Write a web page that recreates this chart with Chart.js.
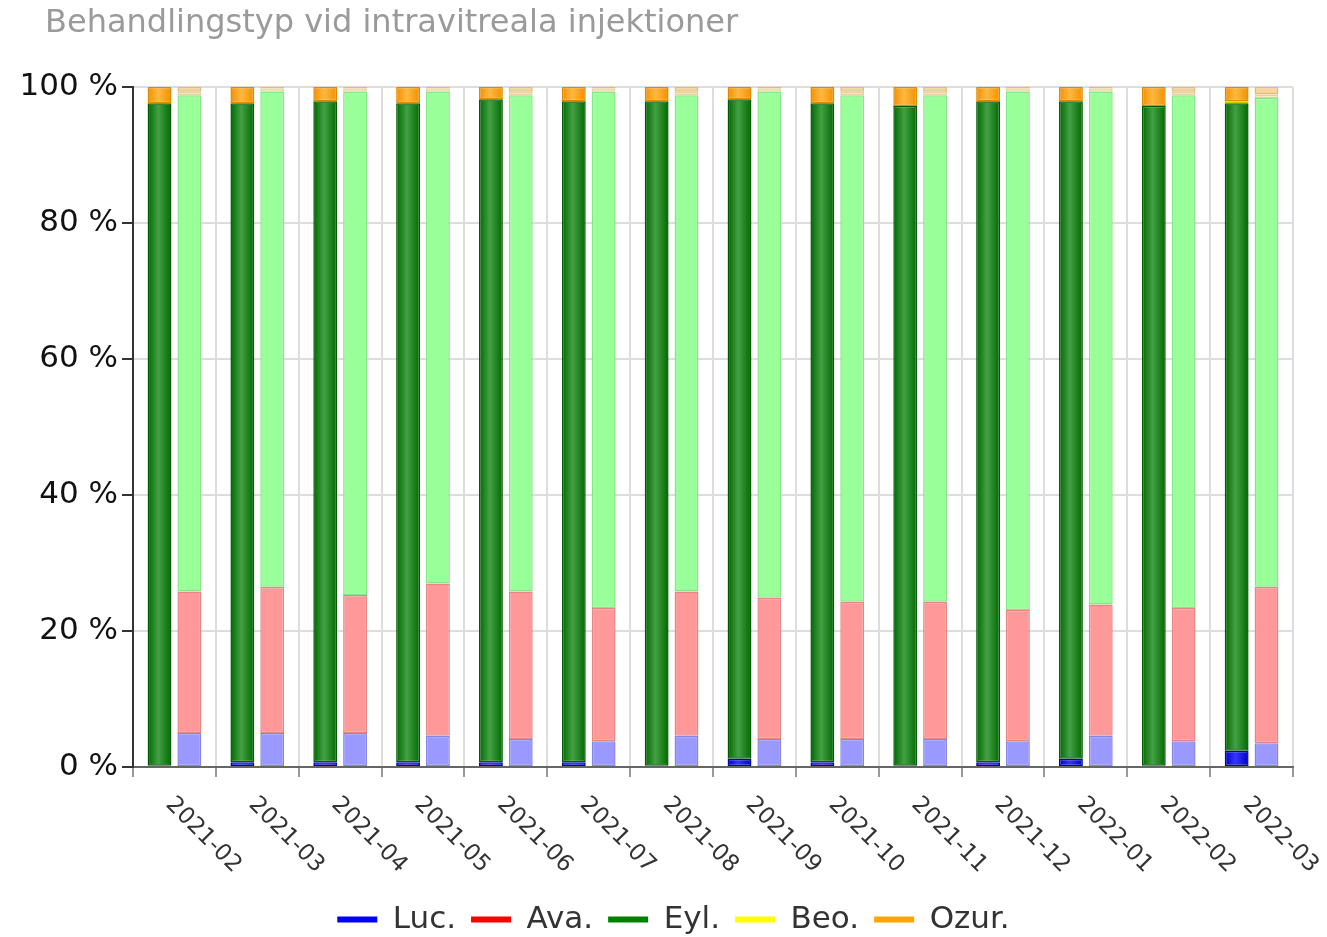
<!DOCTYPE html>
<html>
<head>
<meta charset="utf-8">
<script src="https://cdn.jsdelivr.net/npm/chart.js@4"></script>
<style>
    body { margin: 0; background: #fff; }
    #wrap { position: relative; width: 1327px; height: 937px; }
    #title {
        position: absolute; left: 45px; top: 2px; margin: 0;
        font: 32px "DejaVu Sans", sans-serif; color: #9a9a9a; font-weight: normal;
    }
</style>
</head>
<body>
<div id="wrap">
    <h1 id="title">Behandlingstyp vid intravitreala injektioner</h1>
    <canvas id="stacked-chart"></canvas>
</div>
<script>
// months
const categories = ['2021-02', '2021-03', '2021-04', '2021-05', '2021-06', '2021-07', '2021-08',
    '2021-09', '2021-10', '2021-11', '2021-12', '2022-01', '2022-02', '2022-03'];

// left bar of each pair (saturated colours), percent
const lucA = [0.2, 0.7, 0.7, 0.7, 0.7, 0.7, 0.2, 1.2, 0.7, 0.2, 0.7, 1.2, 0.2, 2.4];
const avaA = [0, 0, 0, 0, 0, 0, 0, 0, 0, 0, 0, 0, 0, 0];
const eylA = [97.4, 96.9, 97.2, 96.9, 97.5, 97.2, 97.7, 97.0, 96.9, 97.0, 97.2, 96.7, 97.0, 95.2];
const beoA = [0, 0, 0, 0, 0, 0, 0, 0, 0, 0, 0, 0, 0, 0.3];
const ozurA = [2.4, 2.4, 2.1, 2.4, 1.8, 2.1, 2.1, 1.8, 2.4, 2.8, 2.1, 2.1, 2.8, 2.1];

// right bar of each pair (light colours), percent
const lucB = [5.0, 5.0, 5.0, 4.6, 4.1, 3.8, 4.6, 4.1, 4.1, 4.1, 3.8, 4.6, 3.8, 3.5];
const avaB = [20.8, 21.5, 20.3, 22.4, 21.7, 19.6, 21.2, 20.8, 20.2, 20.2, 19.3, 19.3, 19.6, 23.0];
const eylB = [73.0, 72.8, 74.0, 72.3, 73.0, 75.9, 73.0, 74.4, 74.5, 74.5, 76.2, 75.4, 75.4, 71.9];
const beoB = [0.5, 0.5, 0.5, 0.5, 0.5, 0.5, 0.5, 0.5, 0.5, 0.5, 0.5, 0.5, 0.5, 0.5];
const ozurB = [0.7, 0.2, 0.2, 0.2, 0.7, 0.2, 0.7, 0.2, 0.7, 0.7, 0.2, 0.2, 0.7, 1.1];

const seriesNames = ['Luc.', 'Ava.', 'Eyl.', 'Beo.', 'Ozur.'];
const legendColors = ['#0000ff', '#ff0000', '#008000', '#ffff00', '#ffa500'];

const FONT = '"DejaVu Sans", sans-serif';

// shaded fill: darker at the bar edges, lighter in the middle
function shade(edge, mid) {
    return (c) => {
        const el = c.element;
        if (!el || !isFinite(el.x) || !isFinite(el.width)) return mid;
        const g = c.chart.ctx.createLinearGradient(el.x - el.width / 2, 0, el.x + el.width / 2, 0);
        g.addColorStop(0, edge);
        g.addColorStop(0.45, mid);
        g.addColorStop(1, edge);
        return g;
    };
}

function bar(label, data, stack, fill, border) {
    return {
        label: label,
        data: data,
        stack: stack,
        backgroundColor: fill,
        borderColor: border,
        borderWidth: 1.5,
        borderSkipped: false
    };
}

// rotated x labels, drawn from the start of the text downwards to the right
const xLabels = {
    id: 'xLabels',
    afterLayout(chart) {
        // legend sits a little right of the canvas centre
        chart.legend.left += 27;
        chart.legend.right += 27;
    },
    afterDraw(chart) {
        const ctx = chart.ctx;
        const sc = chart.scales.x;
        ctx.save();
        ctx.font = '23px ' + FONT;
        ctx.fillStyle = '#333';
        ctx.textAlign = 'left';
        ctx.textBaseline = 'top';
        categories.forEach((c, i) => {
            ctx.save();
            ctx.translate(sc.getPixelForTick(i) + 3, sc.top + 26);
            ctx.rotate(Math.PI / 4);
            ctx.fillText(c, 0, 0);
            ctx.restore();
        });
        ctx.restore();
    }
};

const chart = new Chart(document.getElementById('stacked-chart'), {
    type: 'bar',
    data: {
        labels: categories,
        datasets: [
            bar('Luc.', lucA, 'A', shade('#0000c0', '#3535ff'), '#0000b0'),
            bar('Ava.', avaA, 'A', shade('#c00000', '#ff3535'), '#b00000'),
            bar('Eyl.', eylA, 'A', shade('#006800', '#44a044'), '#005a00'),
            bar('Beo.', beoA, 'A', shade('#d8d800', '#ffff40'), '#c8c800'),
            bar('Ozur.', ozurA, 'A', shade('#f09000', '#ffb840'), '#e08800'),
            bar('Luc.', lucB, 'B', '#9999ff', '#8585e6'),
            bar('Ava.', avaB, 'B', '#ff9999', '#e68585'),
            bar('Eyl.', eylB, 'B', '#99ff99', '#85e685'),
            bar('Beo.', beoB, 'B', '#ffeab8', '#e8d09a'),
            bar('Ozur.', ozurB, 'B', '#f7d499', '#e0bb80')
        ]
    },
    options: {
        animation: false,
        responsive: true,
        maintainAspectRatio: false,
        categoryPercentage: 0.72,
        barPercentage: 0.8,
        layout: { padding: { top: 87, right: 34, left: 0, bottom: -8 } },
        plugins: {
            title: { display: false },
            tooltip: { enabled: false },
            legend: {
                position: 'bottom',
                labels: {
                    font: { family: FONT, size: 31 },
                    color: '#333',
                    boxWidth: 40,
                    boxHeight: 6,
                    padding: 15,
                    generateLabels: () => seriesNames.map((n, i) => ({
                        text: n,
                        fillStyle: legendColors[i],
                        strokeStyle: legendColors[i],
                        lineWidth: 0,
                        fontColor: '#333',
                        datasetIndex: i
                    }))
                }
            }
        },
        scales: {
            x: {
                stacked: true,
                grid: { color: '#dddddd', lineWidth: 2, tickLength: 10, tickColor: '#999' },
                border: { color: '#666', width: 2 },
                ticks: { display: false },
                afterFit: (s) => { s.height = 122; }
            },
            y: {
                stacked: true,
                min: 0,
                max: 100,
                grid: { color: '#dddddd', lineWidth: 2, tickLength: 11, tickColor: '#333' },
                border: { color: '#333', width: 2 },
                ticks: {
                    stepSize: 20,
                    padding: 4,
                    color: '#111',
                    font: { family: FONT, size: 31 },
                    callback: (v) => v + ' %'
                },
                afterFit: (s) => { s.width = 133; }
            }
        }
    },
    plugins: [xLabels]
});
// second pass so the shaded fills know where each bar sits
chart.update();
</script>
</body>
</html>
